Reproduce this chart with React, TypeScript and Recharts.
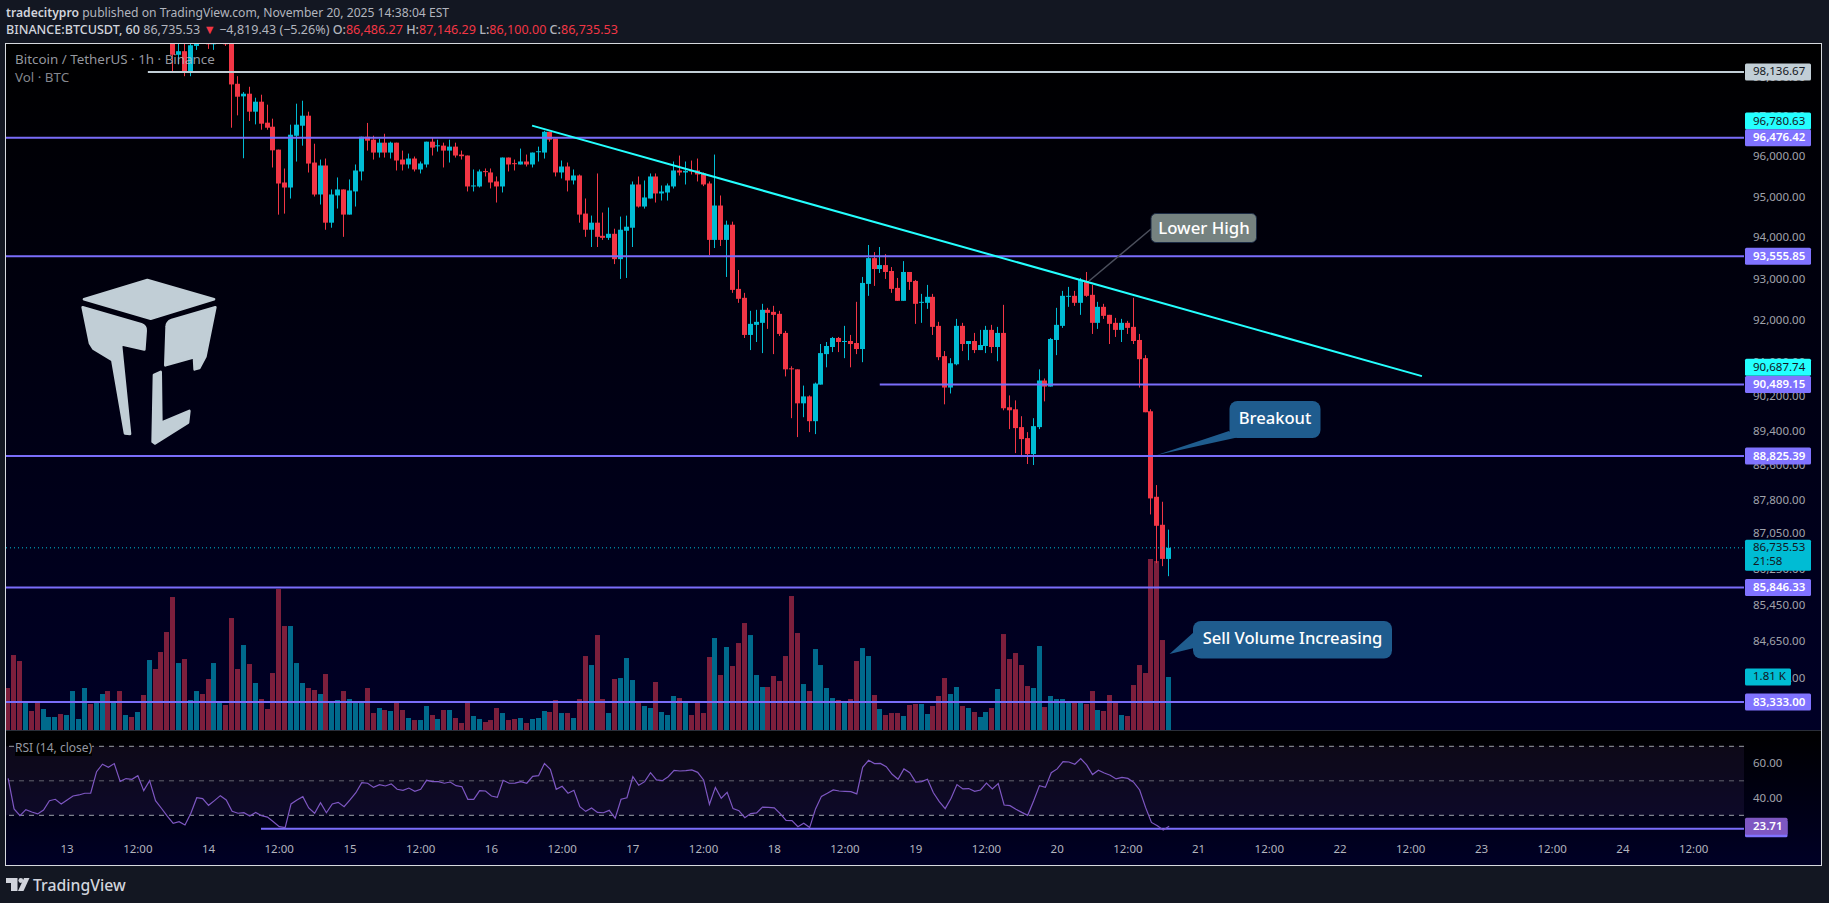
import React from 'react';
import { ComposedChart, Bar, Line, XAxis, YAxis, ReferenceLine, ReferenceArea } from 'recharts';

const FONT = '"Noto Sans", sans-serif';
const CANDLE_START = 28;
const BARS_IN_VIEW: [number, number] = [-0.37, 294.55];
const PRICE_DOMAIN: [number, number] = [82730, 98878];
const VOLUME_MAX = 23461;
const RSI_DOMAIN: [number, number] = [15.7, 78.87];

const opens: (number | null)[] = [
  98870,98576,98668,98148,98803,null,98870,98870,null,98870,
  98870,97837,97518,97585,97131,97383,96854,96753,96179,95362,
  95238,96526,96778,97030,95857,95066,95784,94373,95042,95190,
  94571,95141,95636,96502,96428,96106,96353,96106,96353,95932,
  95809,95957,95685,95809,96378,96263,96279,96155,96254,96056,
  96032,95264,95264,95644,95611,95388,95264,95982,95842,95809,
  95883,95809,96114,96106,96626,96452,95611,95759,95413,95536,
  94596,94200,94373,94052,94002,94101,93484,94175,94249,95313,
  94769,94967,95511,95091,95115,95264,95660,95610,95660,95660,
  95586,95338,93952,94794,93952,94323,92765,92550,91663,91903,
  91951,92262,92214,92166,91711,90872,90848,90050,90212,89634,
  90489,91208,91376,91591,91495,91519,91471,91328,92885,93508,
  93244,93340,93197,92789,92478,93173,92957,92430,92430,92574,
  91879,91160,90420,90968,91879,91447,91519,91304,91400,91783,
  91376,91711,89958,89911,89496,89241,88872,89496,90585,90443,
  91543,91879,92574,92598,92430,92957,92622,91951,92334,92142,
  91951,91783,91951,91855,91543,91112,89865,87892,87256,86486,
];
const highs: (number | null)[] = [
  98870,98870,98870,98870,98870,null,98870,98870,null,98870,
  98870,98030,97627,97761,97484,97560,97308,96955,96179,95709,
  96804,97333,97408,97131,96327,95932,95957,95190,95487,95190,
  95438,95809,96502,96848,96527,96452,96576,96378,96353,96155,
  96081,96007,95883,96378,96477,96428,96353,96428,96353,96155,
  96032,95685,95685,95710,95710,95512,95982,95982,95932,96205,
  96056,96106,96254,96650,96626,96452,95908,95858,95685,95561,
  94967,94547,95586,94621,94745,94225,94522,94546,95388,95511,
  95412,95586,95586,95288,95338,95883,96031,95883,95907,95957,
  95610,95388,96056,95041,94422,94398,93221,92669,92238,92262,
  92406,92310,92358,92238,91759,90920,90848,90466,90235,90537,
  91447,91495,91615,91615,91879,91663,92454,93053,93828,93655,
  93779,93605,93292,93029,93436,93173,92981,92645,92861,92645,
  91975,91280,91112,92046,91951,91519,91711,91783,91879,91903,
  91855,92382,90235,90119,89750,89380,89704,90848,90633,91591,
  92310,92717,92813,92717,93029,93173,92861,92454,92406,92142,
  92070,92046,91998,92550,91687,91184,89911,88160,87779,87146,
];
const lows: (number | null)[] = [
  98139,98332,98030,98030,98702,null,98727,98702,null,98803,
  96728,97039,95965,96896,96812,96678,96678,95734,94570,94595,
  94966,95882,96278,95610,95016,94819,94200,94250,94720,94027,
  94571,94769,95413,96155,95932,95982,95982,95957,95660,95660,
  95710,95636,95586,95735,96032,96130,95735,95858,95982,95932,
  95141,95141,95240,95512,95215,94868,95116,95636,95660,95809,
  95759,95735,95883,95957,96378,95512,95462,95141,95314,94373,
  94027,93779,93779,93952,93952,93364,93005,93029,93779,94744,
  94719,94967,94868,94917,94917,95214,95536,95313,95561,95388,
  95272,93581,93754,93804,93053,92669,92430,91591,91304,91495,
  91232,91807,91208,91639,90681,89704,89265,89727,89380,89334,
  90489,90896,91256,91256,91112,90896,91208,91017,92598,92837,
  93149,93005,92669,92478,92478,92741,91927,91951,92286,91663,
  91064,90027,90281,90944,91280,91064,91232,91304,91232,91232,
  91040,89888,89450,88895,88803,88643,88620,89450,90096,90443,
  91184,91831,92334,92358,92142,92574,91687,91807,92046,91447,
  91615,91495,91687,91447,90420,89842,87491,86392,86324,86100,
];
const closes: (number | null)[] = [
  98576,98668,98148,98820,98870,null,98860,98870,null,98860,
  97820,97509,97585,97131,97383,96829,96728,96162,95337,95238,
  96552,96804,97030,95832,95065,95784,94373,95066,95190,94571,
  95165,95660,96502,96403,96106,96353,96106,96353,95908,95809,
  95957,95685,95834,96378,96230,96287,96155,96254,96032,96015,
  95264,95289,95636,95619,95363,95264,95982,95809,95817,95883,
  95809,96106,96139,96626,96428,95611,95759,95413,95536,94571,
  94200,94373,94027,94002,94101,93484,94200,94274,95313,94769,
  94992,95511,95091,95140,95288,95660,95610,95652,95635,95561,
  95313,93952,94794,93952,94323,92741,92526,91663,91927,91975,
  92262,92190,92142,91687,90848,90848,90050,90212,89634,90513,
  91232,91400,91591,91495,91519,91447,91328,92909,93508,93244,
  93340,93173,92765,92478,93173,92933,92406,92454,92574,91855,
  91136,90420,90992,91879,91447,91519,91304,91423,91783,91376,
  91711,89935,89888,89473,89218,88872,89519,90585,90443,91567,
  91903,92598,92598,92430,92981,92598,91951,92334,92118,91927,
  91783,91951,91831,91519,91088,89842,87855,87233,86487,86735.53,
];
const volumes = [
  1434,2560,2356,922,649,922,717,444,444,546,
  512,1331,376,1434,888,956,1229,1331,956,1331,
  512,444,615,1195,2390,2083,2663,3346,4541,2287,
  2424,1024,1331,1229,1741,2287,922,854,3824,2083,
  2902,2253,1605,1058,717,1946,4814,3551,3551,2287,
  1605,1434,1366,1229,1912,990,1024,1331,1058,956,
  956,1434,580,751,683,649,922,683,410,341,
  341,819,512,376,683,683,410,239,956,478,
  376,273,341,751,580,341,376,410,239,376,
  410,649,615,1024,580,580,410,1058,2526,2219,
  3243,1058,580,1741,1775,2458,1707,922,819,751,
  1639,615,512,1161,1092,922,512,922,580,2492,
  3141,1878,2834,2185,2970,3653,3243,1878,1468,1468,
  1844,1673,2526,4575,3312,1570,1331,2765,2219,1434,
  1092,1024,956,1058,2356,2799,2526,1195,717,512,
  580,580,478,854,888,888,546,819,1161,1775,
  1229,1468,819,751,615,444,615,751,1400,3277,
  2424,2629,2219,1502,1434,2868,785,1161,1058,1058,
  956,956,922,888,1331,683,649,1195,956,512,
  478,1536,2219,1946,5840,5771,3073,1810,
];
// Direction of the volume bars whose candles sit above the visible price range.
const earlyVolumeUp = [
  false,false,false,true,false,false,true,true,true,false,
  true,true,true,true,false,true,true,false,true,false,
  true,false,true,false,true,false,false,false,false,true,
  false,true,true,false,false,true,true,false,
];
const rsiValues = [
  51.4,33.7,29.8,33.3,31.9,30.8,33.1,38.5,39.3,36.6,
  38.9,41.2,41.8,42.8,42.8,55.3,59.6,57.8,60,49.7,
  51.3,50.9,53,44.3,50.1,38.5,34.1,29.6,25.4,26.3,
  24.4,31.2,40.2,39.7,35.8,38.5,41.4,38.9,32.3,31.2,
  31.5,29.6,31.7,29.8,29,26.3,23.4,22.9,36.6,38.9,
  40.8,34.3,31.2,37.3,31.5,36.6,37.5,35,38.9,43.1,
  48.9,48.6,46.2,47.8,47,48.2,45.1,44.5,45.8,43.9,
  45.1,50.3,49.5,49.5,48.6,49.3,47.2,46.6,39.3,39.3,
  44.3,44.1,41.2,40.4,50.3,48.6,48.7,49.5,48.6,52.6,
  53,60,56.7,45.1,46.8,42.8,44.5,35,32.3,34.3,
  31.7,31.5,32.9,28.3,39.3,40.2,52.4,47.4,49.5,54.7,
  50.5,50.1,52.4,56.1,55.7,55.9,56.3,54.9,50.5,36.4,
  46.2,39.9,43.3,33.9,32.7,28.6,31,31.4,34.8,34.6,
  34.3,31,27.1,26.9,23.4,25.4,22.9,33.7,41,42.8,
  44.7,44.1,43.9,43.7,42.4,57.8,61.9,60,60.1,58.2,
  53.8,50.9,56.9,54.7,49.3,49.5,50.9,43.1,37.9,33.9,
  39.9,47.8,45.3,45.5,43.9,44.7,48.7,45.3,48.4,36,
  35.6,33.5,31.7,30,38.3,47.2,46.2,54.7,56.9,61.1,
  60.9,59.6,62.9,59.2,53.6,56.1,54.5,53.2,51.1,52,
  51.4,49.1,44.7,34.6,25.9,24,21.5,23.71,
];

const timeTickBars = [10,22,34,46,58,70,82,94,106,118,130,142,154,166,178,190,202,214,226,238,250,262,274,286];
const timeTickLabels = ['13','12:00','14','12:00','15','12:00','16','12:00','17','12:00','18','12:00','19','12:00','20','12:00','21','12:00','22','12:00','23','12:00','24','12:00'];
const priceTicks = [98000,97000,96000,95000,94000,93000,92000,91000,90200,89400,88600,87800,87050,86250,85450,84650,83850];
const supportLevels = [96476.42,93555.85,88825.39,85846.33,83333];
const shortLevel = 90489.15;
const shortLevelStartBar = 147.9;
const whiteLevel = 98136.67;
const whiteLevelStartBar = 23.7;
const trendStart = { bar: 88.9, price: 96780.63 };
const trendEnd = { bar: 239.9, price: 90687.74 };
const lastPrice = 86735.53;
const lastVolume = 1810;
const rsiTicks = [60,40];
const rsiLevelLine = 22.25;
const rsiLevelStartBar = 42.9;
const rsiLast = 23.71;

const UP = '#00bcd4';
const DOWN = '#f23645';
const UP_VOL = '#006a8c';
const DOWN_VOL = '#7d1f3c';
const LEVEL = '#7a6dfa';
const LEVEL_LABEL = '#8073ff';
const CYAN = '#24ffff';
const GREY = '#c1ced6';
const AXIS_TEXT = '#a0a3ab';
const AXIS_SIZE = 11.5;

const rows = volumes.map((volume, i) => {
  const c = i - CANDLE_START;
  const low = c >= 0 ? lows[c] : null;
  const high = c >= 0 ? highs[c] : null;
  const open = c >= 0 ? opens[c] : null;
  const close = c >= 0 ? closes[c] : null;
  const up = i < earlyVolumeUp.length ? earlyVolumeUp[i] : (close as number) >= (open as number);
  return { bar: i, open, close, high, low, hl: low != null && high != null ? [low, high] : null, volume, up, rsi: rsiValues[i] };
});

const Candle = (props: any) => {
  const { x, y, width, height, payload } = props;
  const { open, close, high, low } = payload;
  if (open == null || !(height >= 0)) return null;
  const span = Math.log(high / low) || 1;
  const at = (v: number) => y + (height * Math.log(high / v)) / span;
  const up = close >= open;
  const color = up ? UP : DOWN;
  const top = at(Math.max(open, close));
  const bottom = at(Math.min(open, close));
  const left = Math.round(x);
  return (
    <g>
      <rect x={left + Math.floor(width / 2)} y={y} width={1} height={Math.max(height, 1)} fill={color} />
      <rect x={left} y={top} width={width} height={Math.max(bottom - top, 1)} fill={color} />
    </g>
  );
};

const VolumeBar = (props: any) => {
  const { x, y, width, height, payload } = props;
  return <rect x={Math.round(x)} y={y} width={width} height={height} fill={payload.up ? UP_VOL : DOWN_VOL} />;
};

const PLOT_W = 1738;
const AXIS_W = 78;
const CHART_W = PLOT_W + AXIS_W;

const AxisText = ({ y, fill = AXIS_TEXT, bold, children }: any) => (
  <text x={PLOT_W + 9} y={y - 1} fill={fill} fontSize={AXIS_SIZE} fontFamily={FONT} fontWeight={bold ? 600 : 400} dominantBaseline="central">{children}</text>
);

const LabelBox = ({ y, bg, fg, text, bold, w = 66, h = 17 }: any) => (
  <g>
    <rect x={PLOT_W + 1} y={y - h / 2} width={w} height={h} fill={bg} rx={1.5} />
    <AxisText y={y} fill={fg} bold={bold}>{text}</AxisText>
  </g>
);

const fmt = (v: number) => v.toLocaleString('en-US', { minimumFractionDigits: 2, maximumFractionDigits: 2 });

const PriceTick = (props: any) => {
  const { y, payload } = props;
  const v = payload.value;
  if (v === whiteLevel) return <LabelBox y={y} bg={GREY} fg="#131722" text={fmt(v)} />;
  if (v === trendStart.price) return <LabelBox y={y - 4.5} bg={CYAN} fg="#131722" text={fmt(v)} />;
  if (v === trendEnd.price) return <LabelBox y={y - 9} bg={CYAN} fg="#131722" text={fmt(v)} />;
  if (v === lastPrice) {
    return (
      <g>
        <rect x={PLOT_W + 1} y={y - 8} width={66} height={31} fill={UP} rx={1.5} />
        <AxisText y={y} fill="#131722">{fmt(v)}</AxisText>
        <AxisText y={y + 14} fill="#131722">21:58</AxisText>
      </g>
    );
  }
  if (v === shortLevel || supportLevels.includes(v)) return <LabelBox y={y} bg={LEVEL_LABEL} fg="#ffffff" text={fmt(v)} bold />;
  return <AxisText y={y}>{fmt(v)}</AxisText>;
};

const RsiTick = (props: any) => {
  const { y, payload } = props;
  const v = payload.value;
  if (v === rsiLevelLine) return <rect x={PLOT_W + 1} y={y - 8.5} width={42.5} height={17} fill={LEVEL_LABEL} rx={1.5} />;
  if (v === rsiLast) return <LabelBox y={y} bg="#7e57c2" fg="#ffffff" text={fmt(v)} bold w={42.5} />;
  return <AxisText y={y}>{fmt(v)}</AxisText>;
};

const TimeTick = (props: any) => {
  const { x, y, payload } = props;
  return (
    <text x={x} y={y} fill="#b2b5be" fontSize={AXIS_SIZE} fontFamily={FONT} textAnchor="middle" dominantBaseline="central">
      {timeTickLabels[timeTickBars.indexOf(payload.value)]}
    </text>
  );
};

const VolumeTick = (props: any) => (
  <g>
    <rect x={PLOT_W + 1} y={props.y - 8.5} width={46} height={17} fill={UP} rx={1.5} />
    <AxisText y={props.y} fill="#131722">1.81 K</AxisText>
  </g>
);

const hLine = (y: number, from: number, stroke: string, key: string, width = 2) => (
  <ReferenceLine
    key={key}
    xAxisId="price"
    yAxisId="price"
    segment={[{ x: from, y }, { x: BARS_IN_VIEW[1], y }]}
    stroke={stroke}
    strokeWidth={width}
  />
);

function PriceChart() {
  return (
    <ComposedChart width={CHART_W} height={687} data={rows} margin={{ top: 0, right: 0, bottom: 0, left: 0 }}>
      <XAxis xAxisId="price" dataKey="bar" type="number" domain={BARS_IN_VIEW} allowDataOverflow hide />
      <XAxis xAxisId="vol" dataKey="bar" type="number" domain={BARS_IN_VIEW} allowDataOverflow hide />
      <YAxis
        yAxisId="price"
        orientation="right"
        width={AXIS_W}
        scale="log"
        domain={PRICE_DOMAIN}
        allowDataOverflow
        ticks={[...priceTicks, whiteLevel, trendStart.price, ...supportLevels, trendEnd.price, shortLevel, lastPrice]}
        interval={0}
        axisLine={false}
        tickLine={false}
        tick={PriceTick}
      />
      <YAxis
        yAxisId="vol"
        orientation="right"
        mirror
        width={1}
        domain={[0, VOLUME_MAX]}
        allowDataOverflow
        ticks={[lastVolume]}
        interval={0}
        axisLine={false}
        tickLine={false}
        tick={VolumeTick}
      />
      <Bar xAxisId="vol" yAxisId="vol" dataKey="volume" barSize={5} shape={VolumeBar} isAnimationActive={false} />
      {hLine(whiteLevel, whiteLevelStartBar, GREY, 'white')}
      {supportLevels.map((l) => hLine(l, BARS_IN_VIEW[0], LEVEL, `lvl${l}`))}
      {hLine(shortLevel, shortLevelStartBar, LEVEL, 'short')}
      <ReferenceLine
        xAxisId="price"
        yAxisId="price"
        segment={[{ x: BARS_IN_VIEW[0], y: lastPrice }, { x: BARS_IN_VIEW[1], y: lastPrice }]}
        stroke={UP}
        strokeWidth={1}
        strokeDasharray="1 3"
      />
      <Bar xAxisId="price" yAxisId="price" dataKey="hl" barSize={5} shape={Candle} isAnimationActive={false} />
      <ReferenceLine
        xAxisId="price"
        yAxisId="price"
        segment={[{ x: trendStart.bar, y: trendStart.price }, { x: trendEnd.bar, y: trendEnd.price }]}
        stroke={CYAN}
        strokeWidth={2}
      />
    </ComposedChart>
  );
}

function RsiChart() {
  return (
    <ComposedChart width={CHART_W} height={135} data={rows} margin={{ top: 0, right: 0, bottom: 0, left: 0 }}>
      <XAxis
        dataKey="bar"
        type="number"
        domain={BARS_IN_VIEW}
        allowDataOverflow
        height={26}
        ticks={timeTickBars}
        interval={0}
        axisLine={false}
        tickLine={false}
        tick={TimeTick}
      />
      <YAxis
        orientation="right"
        width={AXIS_W}
        domain={RSI_DOMAIN}
        allowDataOverflow
        ticks={[...rsiTicks, rsiLevelLine, rsiLast]}
        interval={0}
        axisLine={false}
        tickLine={false}
        tick={RsiTick}
      />
      <ReferenceArea x1={BARS_IN_VIEW[0]} x2={BARS_IN_VIEW[1]} y1={30} y2={70} fill="#7e57c2" fillOpacity={0.1} stroke="none" />
      <ReferenceLine y={70} stroke="#9a9da6" strokeDasharray="5 5" />
      <ReferenceLine y={50} stroke="#62646e" strokeDasharray="5 5" />
      <ReferenceLine y={30} stroke="#9a9da6" strokeDasharray="5 5" />
      <ReferenceLine segment={[{ x: rsiLevelStartBar, y: rsiLevelLine }, { x: BARS_IN_VIEW[1], y: rsiLevelLine }]} stroke={LEVEL} strokeWidth={2} />
      <Line dataKey="rsi" stroke="#7e57c2" strokeWidth={1.2} dot={false} isAnimationActive={false} />
    </ComposedChart>
  );
}

const abs = (left: number, top: number, extra: React.CSSProperties = {}): React.CSSProperties => ({ position: 'absolute', left, top, ...extra });
const red = { color: '#f23645' };

function Annotations() {
  return (
    <svg width={1829} height={903} style={abs(0, 0, { pointerEvents: 'none' })}>
      <line x1={1151} y1={229} x2={1089} y2={281} stroke="#4b4f5c" strokeWidth={1.5} />
      <rect x={1151} y={213.5} width={105.5} height={29} rx={5} fill="#758280" stroke="#1c2b44" strokeWidth={1} />
      <text x={1204} y={227} fill="#fff" fontSize={16.8} fontWeight={500} fontFamily={FONT} textAnchor="middle" dominantBaseline="central">Lower High</text>
      <polygon points="1229,431 1237,437.5 1157,455" fill="#1f5c8e" />
      <rect x={1229.5} y={401} width={91} height={37} rx={8} fill="#1f5c8e" />
      <text x={1275} y={417} fill="#fff" fontSize={16.6} fontWeight={500} fontFamily={FONT} textAnchor="middle" dominantBaseline="central">Breakout</text>
      <polygon points="1194,632 1194,648 1169.5,654" fill="#1f5c8e" />
      <rect x={1193} y={621} width={199} height={37.5} rx={8} fill="#1f5c8e" />
      <text x={1292.5} y={637.5} fill="#fff" fontSize={16.6} fontWeight={500} fontFamily={FONT} textAnchor="middle" dominantBaseline="central">Sell Volume Increasing</text>
      <svg x={60} y={260} width={180} height={200} viewBox="0 0 540 600">
        <g fill="#c1ced6" stroke="#c1ced6" strokeWidth={8} strokeLinejoin="round">
          <path d="M72 118 L262 60 L462 118 L272 176 Z" />
          <path d="M68 142 L244 193 Q258 198 257 212 L253 268 L190 254 Q182 252 184 265 L210 522 L195 520 L157 300 L100 266 L90 250 Z" />
          <path d="M466 142 L335 180 Q320 186 320 200 L316 316 L402 292 L404 328 L418 324 L436 290 Z" />
          <path d="M282 345 L302 336 L304 488 L388 453 L384 488 L285 550 L278 545 Z" />
        </g>
      </svg>
    </svg>
  );
}

export default function App() {
  return (
    <div style={abs(0, 0, { width: 1829, height: 903, background: '#131722', overflow: 'hidden', fontFamily: FONT })}>
      <div style={abs(6, 4, { fontSize: 12.15, color: '#b2b5be', whiteSpace: 'nowrap', lineHeight: '17px' })}>
        <span style={{ color: '#d1d4dc', fontWeight: 600 }}>tradecitypro</span> published on TradingView.com, November 20, 2025 14:38:04 EST
      </div>
      <div style={abs(6, 21, { fontSize: 12.55, color: '#b2b5be', whiteSpace: 'nowrap', lineHeight: '17px' })}>
        <span style={{ color: '#d1d4dc', fontWeight: 500 }}>BINANCE:BTCUSDT, 60</span> 86,735.53 <span style={red}>▼</span> −4,819.43 (−5.26%) <span style={{ fontWeight: 500 }}>O:</span><span style={red}>86,486.27</span> <span style={{ fontWeight: 500 }}>H:</span><span style={red}>87,146.29</span> <span style={{ fontWeight: 500 }}>L:</span><span style={red}>86,100.00</span> <span style={{ fontWeight: 500 }}>C:</span><span style={red}>86,735.53</span>
      </div>

      <div style={abs(6, 43, { width: 1816, height: 687, background: 'linear-gradient(#000000, #000026)' })} />
      <div style={abs(6, 731, { width: 1816, height: 135, background: 'linear-gradient(#000000, #000026)' })} />
      <div style={abs(6, 730, { width: 1816, height: 1, background: '#2a2e39' })} />

      <div style={abs(6, 43)}><PriceChart /></div>
      <div style={abs(6, 731)}><RsiChart /></div>

      <Annotations />

      <div style={abs(15, 50, { fontSize: 13.4, lineHeight: '18px', color: 'rgba(178,181,190,0.85)', whiteSpace: 'nowrap' })}>Bitcoin / TetherUS · 1h · Binance</div>
      <div style={abs(15, 68, { fontSize: 13.4, lineHeight: '18px', color: 'rgba(178,181,190,0.75)', whiteSpace: 'nowrap' })}>Vol · BTC</div>
      <div style={abs(15, 739, { fontSize: 12, lineHeight: '17px', color: '#9598a1', whiteSpace: 'nowrap', background: '#000' })}>RSI (14, close)</div>

      <div style={abs(5, 43, { width: 1817, height: 823, boxSizing: 'border-box', border: '1px solid #d6d9de', pointerEvents: 'none' })} />

      <svg width={24} height={14} viewBox="0 0 24 14" style={abs(6, 877)}>
        <path d="M0 1h11.5v13H5V6H0z" fill="#d1d4dc" />
        <circle cx={14.8} cy={3.5} r={2.4} fill="#d1d4dc" />
        <path d="M18 1h5.5L17.5 14H12z" fill="#d1d4dc" />
      </svg>
      <div style={abs(33, 873, { fontSize: 15.8, fontWeight: 500, lineHeight: '24px', color: '#d1d4dc', whiteSpace: 'nowrap' })}>TradingView</div>
    </div>
  );
}
